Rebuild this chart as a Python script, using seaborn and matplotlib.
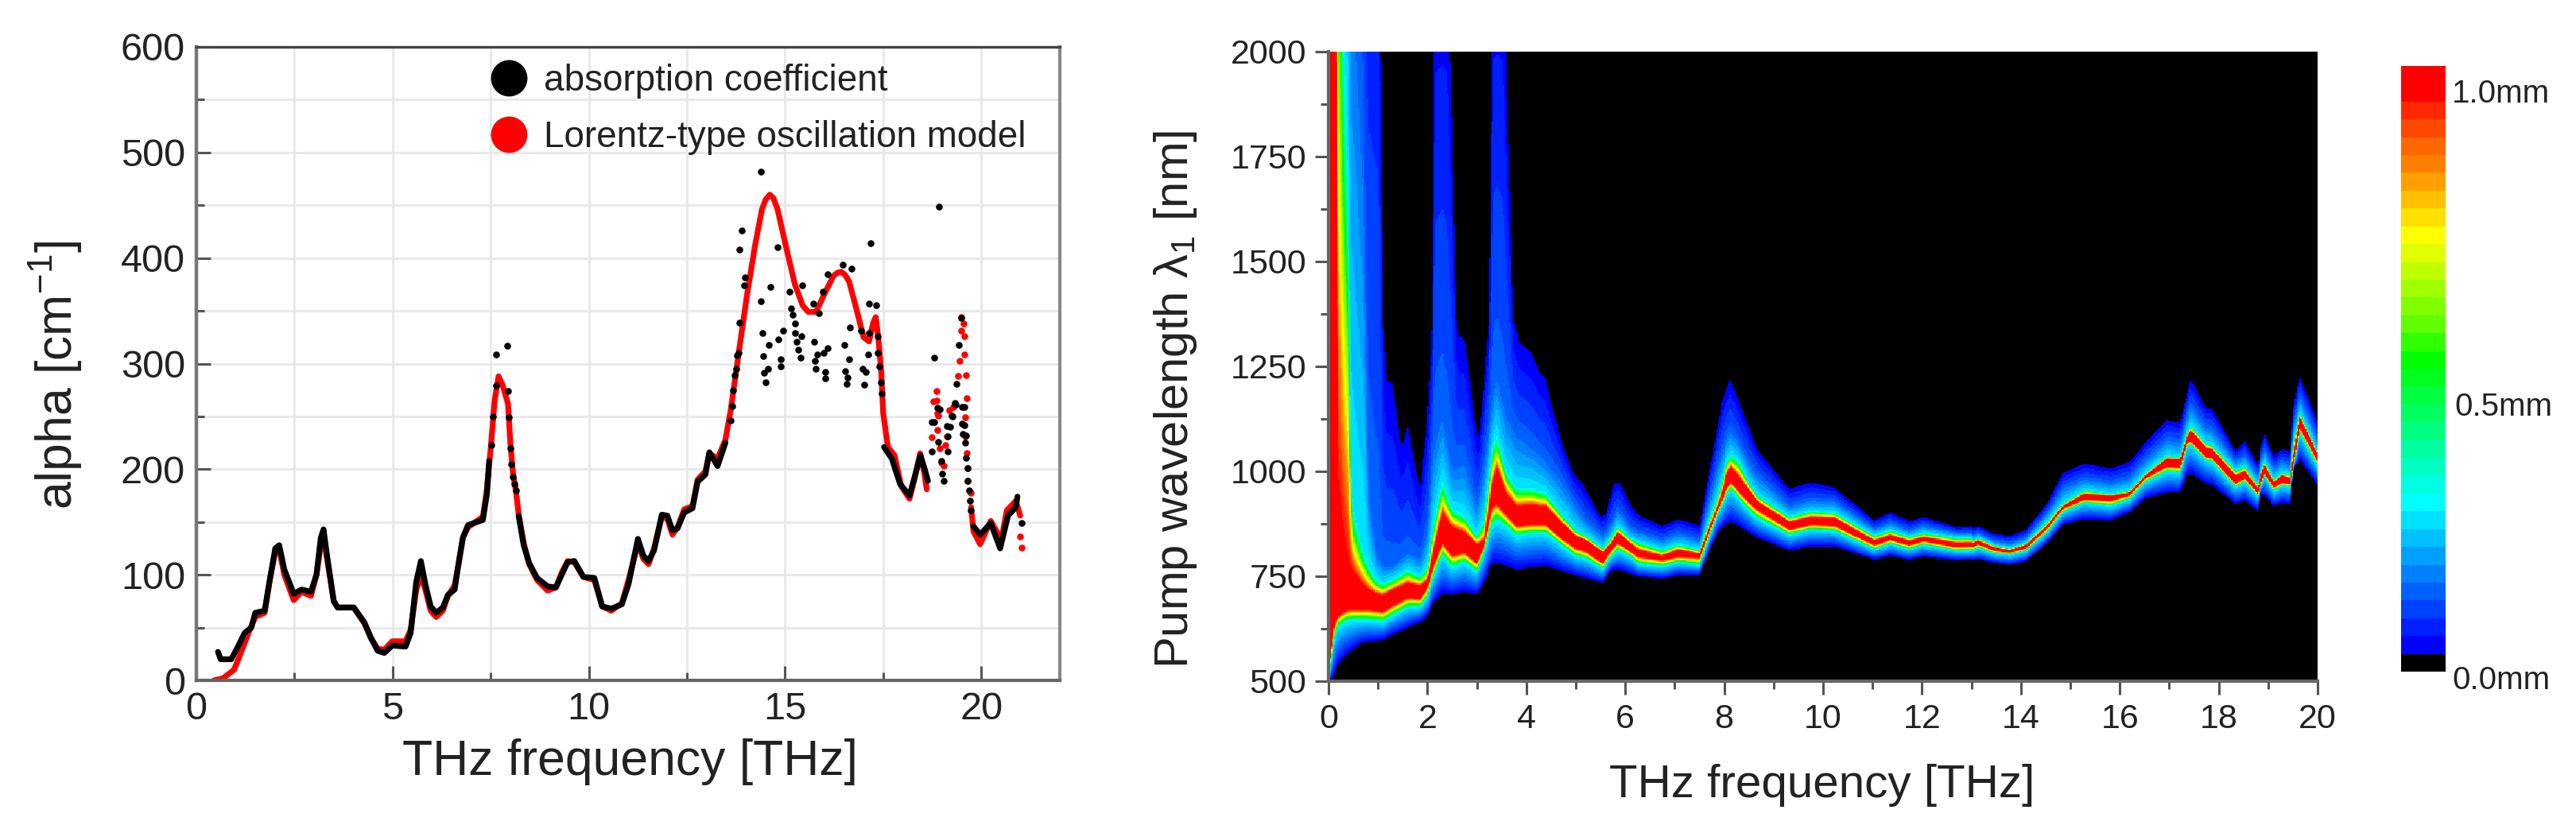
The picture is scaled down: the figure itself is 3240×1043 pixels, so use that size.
import numpy as np
import matplotlib
matplotlib.use('Agg')
import matplotlib.pyplot as plt
from matplotlib.colors import ListedColormap
from matplotlib.lines import Line2D
from matplotlib.ticker import MultipleLocator
import seaborn as sns

# ---- left panel: curves
red_f = [.45,.68,.96,1.09,1.33,1.5,1.74,1.87,2.01,2.11,2.24,2.48,2.68,2.92,3.06,3.17,3.24,3.33,3.5,3.6,4.01,4.28,4.45,4.62,4.79,4.99,5.33,5.46,5.6,5.72,5.84,5.97,6.11,6.28,6.41,6.58,6.69,6.79,6.92,7.3,7.4,7.5,7.6,7.7,7.8,7.94,8.0,8.07,8.14,8.21,8.34,8.48,8.68,8.95,9.16,9.32,9.46,9.63,9.86,10.14,10.34,10.57,10.84,11.01,11.25,11.39,11.52,11.66,11.86,12.0,12.13,12.26,12.43,12.64,12.77,12.97,13.07,13.28,13.48,13.61,13.83,14.03,14.24,14.41,14.5,14.61,14.7,14.81,15.01,15.25,15.45,15.59,15.79,15.99,16.23,16.33,16.43,16.53,16.63,16.83,17.0,17.14,17.24,17.31,17.38,17.45,17.5,17.62,17.79,17.96,18.17,18.3,18.44,18.54,18.61]
red_a = [0,2,10,22,45,60,64,95,122,125,100,76,84,80,100,128,135,115,75,69,69,54,40,30,29,37,37,48,85,100,85,66,60,66,80,90,112,135,145,155,180,220,265,288,280,262,225,195,180,158,130,110,95,85,88,103,113,112,98,95,70,66,73,95,130,115,110,125,155,153,138,145,162,165,190,198,215,210,228,255,313,365,413,446,455,460,457,446,413,375,355,349,349,365,383,386,387,384,378,350,325,321,338,344,323,292,253,221,213,184,172,191,215,198,181]
red_tail_f = [19.74,19.8,19.97,20.24,20.51,20.65,20.88,20.99]
red_tail_a = [164,141,129,151,133,161,170,156]
red_dots_f = [18.74,18.88,18.78,18.88,18.95,19.08,19.12,18.98,19.05,19.19,19.29,19.59,19.59,19.63,19.66,19.66,19.73,20.99,21.02,18.86,18.86,18.9,19.49,19.54,19.49,19.56,19.57,19.45,19.61,19.41,19.63]
red_dots_a = [230,237,264,253,220,223,231,206,203,256,259,249,231,215,201,189,178,136,126,274,265,251,344,338,331,326,309,303,289,288,267]

black_f = [.55,.62,.89,1.06,1.23,1.40,1.50,1.74,1.87,2.01,2.11,2.24,2.48,2.68,2.92,3.06,3.17,3.24,3.33,3.50,3.60,4.01,4.28,4.45,4.62,4.79,4.99,5.33,5.46,5.60,5.72,5.84,5.97,6.11,6.28,6.41,6.58,6.69,6.79,6.92,7.30,7.40,7.46]
black_a = [27,20,20,32,45,50,64,66,95,125,128,105,82,86,84,100,135,143,118,75,69,69,55,40,28,26,33,32,45,93,113,90,70,64,69,81,86,113,135,147,152,176,208]
black2_f = [8.21,8.34,8.48,8.68,8.95,9.16,9.32,9.46,9.63,9.86,10.14,10.34,10.57,10.84,11.01,11.25,11.39,11.52,11.66,11.86,12.0,12.13,12.26,12.43,12.64,12.77,12.97,13.07,13.28,13.48]
black2_a = [156,128,111,97,89,88,101,112,113,98,97,70,68,72,91,134,118,113,123,157,156,142,144,159,163,188,195,216,203,225]
black3_f = [17.52,17.72,17.93,18.17,18.34,18.45,18.55,18.64]
black3_a = [221,210,186,175,198,213,201,189]
black4_f = [19.8,19.97,20.24,20.48,20.68,20.88,20.92]
black4_a = [146,138,149,125,156,164,174]
dots_f = [7.51,7.55,7.63,7.64,7.92,7.94,7.97,8.0,8.03,8.07,8.11,8.14,13.61,13.66,13.68,13.71,13.75,13.78,13.82,13.83,13.84,13.9,13.95,13.97,14.38,14.39,14.43,14.45,14.47,14.51,14.57,14.59,14.63,14.81,14.82,14.89,14.89,14.96,15.11,15.15,15.2,15.25,15.26,15.29,15.34,15.39,15.42,15.44,15.72,15.74,15.77,15.79,15.82,15.86,15.97,15.99,16.02,16.03,16.09,16.09,16.47,16.51,16.53,16.57,16.6,16.64,16.66,16.69,16.94,16.97,17.02,17.06,17.11,17.14,17.14,17.17,17.32,17.36,17.36,17.41,17.45,17.47,18.93,18.8,19.49,19.43,19.37,18.95,18.8,19.2,19.27,19.34,19.56,19.57,19.6,18.74,18.89,18.91,18.74,18.98,19.01,19.04,19.15,19.15,19.13,19.25,19.32,19.5,19.5,19.52,19.58,19.61,19.65,19.66,19.69,19.72,19.74,21.02]
dots_a = [223,250,279,309,317,274,249,220,205,193,186,180,246,260,275,289,295,308,310,339,408,426,374,382,482,359,329,307,291,282,295,318,373,410,323,304,297,331,368,352,346,338,329,321,313,306,326,374,357,321,303,295,309,348,368,310,286,292,315,385,394,318,293,281,287,304,334,390,331,295,280,292,309,357,329,414,355,326,310,297,282,272,449,306,343,318,281,257,245,240,250,261,259,242,232,245,258,226,217,208,196,189,217,231,241,251,263,259,243,233,225,211,201,189,180,170,161,149]

# ---- right panel: contours of the map traced per frequency
ridge_f = [0,.03,.1,.15,.2,.3,.4,.45,.5,.7,.8,.95,1.1,1.3,1.6,1.85,2.0,2.1,2.3,2.5,2.75,3.0,3.15,3.3,3.4,3.6,3.8,4.1,4.4,4.7,5.0,5.2,5.55,5.7,5.85,6.1,
           6.26,6.75,7.07,7.5,7.87,7.95,8.05,8.14,8.3,8.5,8.68,9.32,9.75,10.23,11.04,11.36,11.74,12.03,12.7,13.0,
           13.03,13.14,13.46,13.78,14.1,14.53,14.85,15.28,15.82,16.2,16.52,16.95,17.22,17.35,17.43,17.75,17.86,18.34,18.53,18.8,18.85,18.92,19.12,19.28,19.44,19.52,19.64,20.0]
red_top = [2300,2300,2300,2300,974,854,794,775,762,731,721,709,704,718,734,728,740,800,901,867,855,826,835,961,1009,946,917,920,916,879,846,836,807,826,854,829,
           813,799,813,804,917,943,996,1009,987,955,927,879,891,889,835,848,834,843,829,830,
           829,834,818,812,824,870,917,946,941,949,990,1030,1028,1078,1097,1056,1053,990,1000,958,990,1015,974,990,984,1044,1129,1041]
red_low = [500,551,624,642,655,664,670,671,671,671,671,668,666,680,699,696,722,766,829,800,807,782,822,911,924,895,870,873,873,841,816,810,781,810,829,810,
           797,788,797,794,908,927,961,974,952,927,908,862,873,871,824,837,824,834,819,821,
           820,826,811,807,816,864,911,933,930,943,984,1011,1009,1066,1072,1034,1032,971,984,946,971,996,962,973,971,1025,1104,1025]
cyan_top = [2300,2300,2300,2300,3000,2100,1700,1012,911,810,778,744,734,744,766,750,772,860,980,911,895,848,886,1050,1088,999,961,961,949,901,860,848,816,841,870,841,
            832,813,826,813,943,974,1028,1040,1025,974,943,892,905,902,848,860,845,854,842,842,
            835,842,824,816,829,880,924,955,946,955,996,1037,1034,1088,1110,1066,1063,1003,1012,968,1000,1025,981,996,993,1075,1141,1047]
cyan_low = [500,520,586,614,627,636,641,642,643,643,643,642,640,655,674,677,696,740,797,769,781,759,804,867,879,867,845,851,851,823,797,791,766,794,810,797,
            778,772,782,775,898,914,943,955,933,905,886,848,860,857,813,826,813,823,810,811,
            810,816,804,801,810,854,902,924,917,933,974,999,996,1056,1063,1025,1022,962,974,940,962,990,952,965,962,1012,1091,1012]
mid_top = [3000,3000,3000,3000,3000,3000,3000,2300,2300,1800,987,816,778,778,810,797,861,1062,1145,1018,1031,924,1018,1176,1239,1145,1100,1069,1031,987,924,886,848,873,911,867,
           857,838,854,838,1018,1047,1088,1100,1072,1025,993,920,933,930,864,879,860,872,854,854,
           848,854,835,829,843,902,962,984,974,987,1031,1078,1072,1132,1160,1107,1104,1025,1040,990,1028,1056,1009,1025,1018,1119,1182,1081]
edge_low = [500,500,510,529,542,554,567,572,576,592,594,596,598,611,627,640,655,684,708,706,712,706,734,781,781,775,766,772,775,763,752,745,734,763,766,756,
            750,744,753,753,854,864,876,879,870,854,842,811,821,821,790,799,790,797,788,791,
            788,791,782,777,785,829,873,886,883,902,936,949,949,990,996,971,968,922,931,905,946,943,917,925,922,1006,1028,968]
edge_top_f = [0,1.0,1.1,1.17,1.3,1.45,1.52,1.6,1.66,1.85,2.0,2.1,2.15,2.4,2.58,2.63,2.75,2.87,3.0,3.05,3.15,3.2,3.25,3.33,3.52,3.73,3.87,4.08,4.27,4.38,4.54,4.75,4.96,5.13,5.5,5.6,5.77,5.88,6.15,6.31,
              6.75,7.07,7.5,7.87,7.98,8.12,8.68,9.32,9.75,10.23,11.04,11.36,11.74,12.03,12.7,13.0,
              13.03,13.14,13.46,13.78,14.1,14.53,14.85,15.28,15.82,16.2,16.52,16.95,17.22,17.35,17.43,17.75,17.86,18.34,18.53,18.8,18.85,18.92,19.12,19.28,19.44,19.52,19.64,20.0]
edge_top = [3000,3000,1365,1217,1208,1066,1069,1113,1069,955,1126,1365,2300,2300,1365,1324,1315,1208,1088,1085,1208,1296,1365,2300,2300,1365,1305,1287,1236,1223,1145,1056,993,971,892,895,971,974,911,892,
            870,886,870,1107,1176,1220,1050,958,974,961,883,902,881,891,867,869,
            864,870,851,847,861,924,996,1018,1007,1022,1069,1122,1116,1182,1220,1151,1151,1049,1072,1015,1056,1091,1037,1053,1047,1164,1227,1119]

# colour bands of the scale, bottom to top (first is the black 0.0mm band)
band_colors = [(0,0,0),(0,0,255),(0,32,255),(0,64,255),(0,96,255),(0,128,255),(0,160,255),(0,192,255),(0,224,255),(0,255,255),
               (0,255,224),(0,255,192),(0,255,160),(0,255,128),(0,255,96),(0,255,64),(0,255,32),(0,255,0),
               (48,255,0),(96,255,0),(128,255,0),(160,255,0),(192,255,0),(224,255,0),(255,255,0),
               (255,224,0),(255,192,0),(255,160,0),(255,128,0),(255,104,0),(255,72,0),(255,40,0),(255,0,0),(255,0,0)]
bar_labels = ['1.0mm','0.5mm','0.0mm']

W, H = 3240, 1043
sns.set_theme(style='ticks')
plt.rcParams['font.family'] = ['Liberation Sans', 'DejaVu Sans']
plt.rcParams['mathtext.fontset'] = 'custom'
plt.rcParams['mathtext.rm'] = 'Liberation Sans'
plt.rcParams['mathtext.default'] = 'regular'

def axes_px(fig, x0, y0, x1, y1):
    return fig.add_axes([x0/W, 1-y1/H, (x1-x0)/W, (y1-y0)/H])

fig = plt.figure(figsize=(W/100, H/100), dpi=100, facecolor='white')

# ---------- left panel
ax = axes_px(fig, 247, 59, 1333, 856)
ax.set_xlim(0, 22)
ax.set_ylim(0, 600)
ax.xaxis.set_major_locator(MultipleLocator(5))
ax.xaxis.set_minor_locator(MultipleLocator(2.5))
ax.yaxis.set_major_locator(MultipleLocator(100))
ax.yaxis.set_minor_locator(MultipleLocator(50))
ax.grid(which='both', color='#e8e8e8', lw=2)
ax.set_axisbelow(True)

line_kw = dict(estimator=None, sort=False, legend=False, lw=5.2, ax=ax)
dot_kw = dict(s=38, linewidth=0, legend=False, ax=ax, zorder=4)
sns.lineplot(x=red_f, y=red_a, color='#ff0000', **line_kw)
sns.lineplot(x=red_tail_f, y=red_tail_a, color='#ff0000', **line_kw)
sns.scatterplot(x=red_dots_f, y=red_dots_a, color='#ff0000', **dot_kw)
for fx, ay in [(black_f, black_a), (black2_f, black2_a), (black3_f, black3_a), (black4_f, black4_a)]:
    sns.lineplot(x=fx, y=ay, color='black', zorder=3, **line_kw)
sns.scatterplot(x=dots_f, y=dots_a, color='black', **dot_kw)

ax.tick_params(which='major', direction='in', length=13, width=2.2, color='#555555', labelsize=35, labelcolor='#222222', pad=10)
ax.tick_params(which='minor', direction='in', length=7, width=2.2, color='#555555')
for side, col, lw in [('left', '#777777', 3.2), ('bottom', '#666666', 3), ('top', '#444444', 2.4), ('right', '#888888', 3)]:
    ax.spines[side].set_visible(True)
    ax.spines[side].set_color(col)
    ax.spines[side].set_linewidth(lw)
ax.set_xlabel('THz frequency [THz]', fontsize=45, color='#222222')
ax.set_ylabel('alpha [cm$^{-1}$]', fontsize=45, color='#222222')
ax.xaxis.set_label_coords((792-247)/1086, -(958-856)/797, transform=ax.transAxes)
ax.xaxis.label.set_va('center')
ax.yaxis.set_label_coords((70-247)/1086, (856-472)/797, transform=ax.transAxes)
ax.yaxis.label.set_va('center')
handles = [Line2D([], [], ls='', marker='o', ms=32, color='black', label='absorption coefficient'),
           Line2D([], [], ls='', marker='o', ms=32, color='#ff0000', label='Lorentz-type oscillation model')]
ax.legend(handles=handles, frameon=False, fontsize=33, loc='upper left', bbox_to_anchor=((612-247)/1086, 1-(80-59)/797),
          borderaxespad=0, borderpad=0, handletextpad=0.37, labelspacing=0.58, handlelength=1.2, labelcolor='#222222')

# ---------- right panel, map built from the traced contours
df, dl = 0.025, 2.5
f_grid = np.arange(800)*df + df/2
l_grid = 500 + np.arange(600)*dl + dl/2
curves = [edge_low, cyan_low, red_low, red_top, cyan_top, mid_top]
cols = [np.interp(f_grid, ridge_f, c) for c in curves] + [np.interp(f_grid, edge_top_f, edge_top)]
stops = [.03, .26, .95, .95, .26, .13, .03]
field = np.zeros((600, 800))
for i in range(800):
    xp = np.maximum.accumulate([c[i] for c in cols])
    field[:, i] = np.interp(l_grid, xp, stops, left=0, right=0)

cmap = ListedColormap(np.array(band_colors)/255)
ax2 = axes_px(fig, 1671, 65, 2915, 857)
sns.heatmap(field, vmin=0, vmax=1, cmap=cmap, cbar=False, ax=ax2, xticklabels=False, yticklabels=False)
ax2.set_ylim(0, 600)
ax2.set_xticks([f/df for f in range(0, 21, 2)], labels=[str(f) for f in range(0, 21, 2)])
ax2.set_xticks([f/df for f in range(1, 20, 2)], minor=True)
ax2.set_yticks([(l-500)/dl for l in range(500, 2001, 250)], labels=[str(l) for l in range(500, 2001, 250)], rotation=0)
ax2.set_yticks([(l-500)/dl for l in range(625, 2000, 250)], minor=True)
ax2.tick_params(which='major', direction='out', length=12, width=2.2, color='#555555', labelsize=31, labelcolor='#222222', pad=8)
ax2.tick_params(which='minor', direction='out', length=7, width=2.2, color='#555555')
for side in ['left', 'bottom']:
    ax2.spines[side].set_visible(True)
    ax2.spines[side].set_color('#666666')
    ax2.spines[side].set_linewidth(3)
ax2.set_xlabel('THz frequency [THz]', fontsize=42, color='#222222')
ax2.set_ylabel('Pump wavelength λ$_1$ [nm]', fontsize=43, color='#222222')
ax2.xaxis.set_label_coords((2292-1671)/1244, -(988-857)/792, transform=ax2.transAxes)
ax2.xaxis.label.set_va('center')
ax2.yaxis.set_label_coords((1478-1671)/1244, (857-502)/792, transform=ax2.transAxes)
ax2.yaxis.label.set_va('center')

# ---------- colour scale
cax = axes_px(fig, 3020, 83, 3076, 845)
sns.heatmap(np.arange(len(band_colors)).reshape(-1, 1), cmap=cmap, vmin=-.5, vmax=len(band_colors)-.5, cbar=False, ax=cax,
            xticklabels=False, yticklabels=False)
cax.set_ylim(0, len(band_colors))
for txt, px, py in zip(bar_labels, [3084, 3087, 3084], [118, 512, 856]):
    fig.text(px/W, 1-py/H, txt, fontsize=29, color='#222222', va='center', ha='left')

fig.savefig('out.png', dpi=100)
